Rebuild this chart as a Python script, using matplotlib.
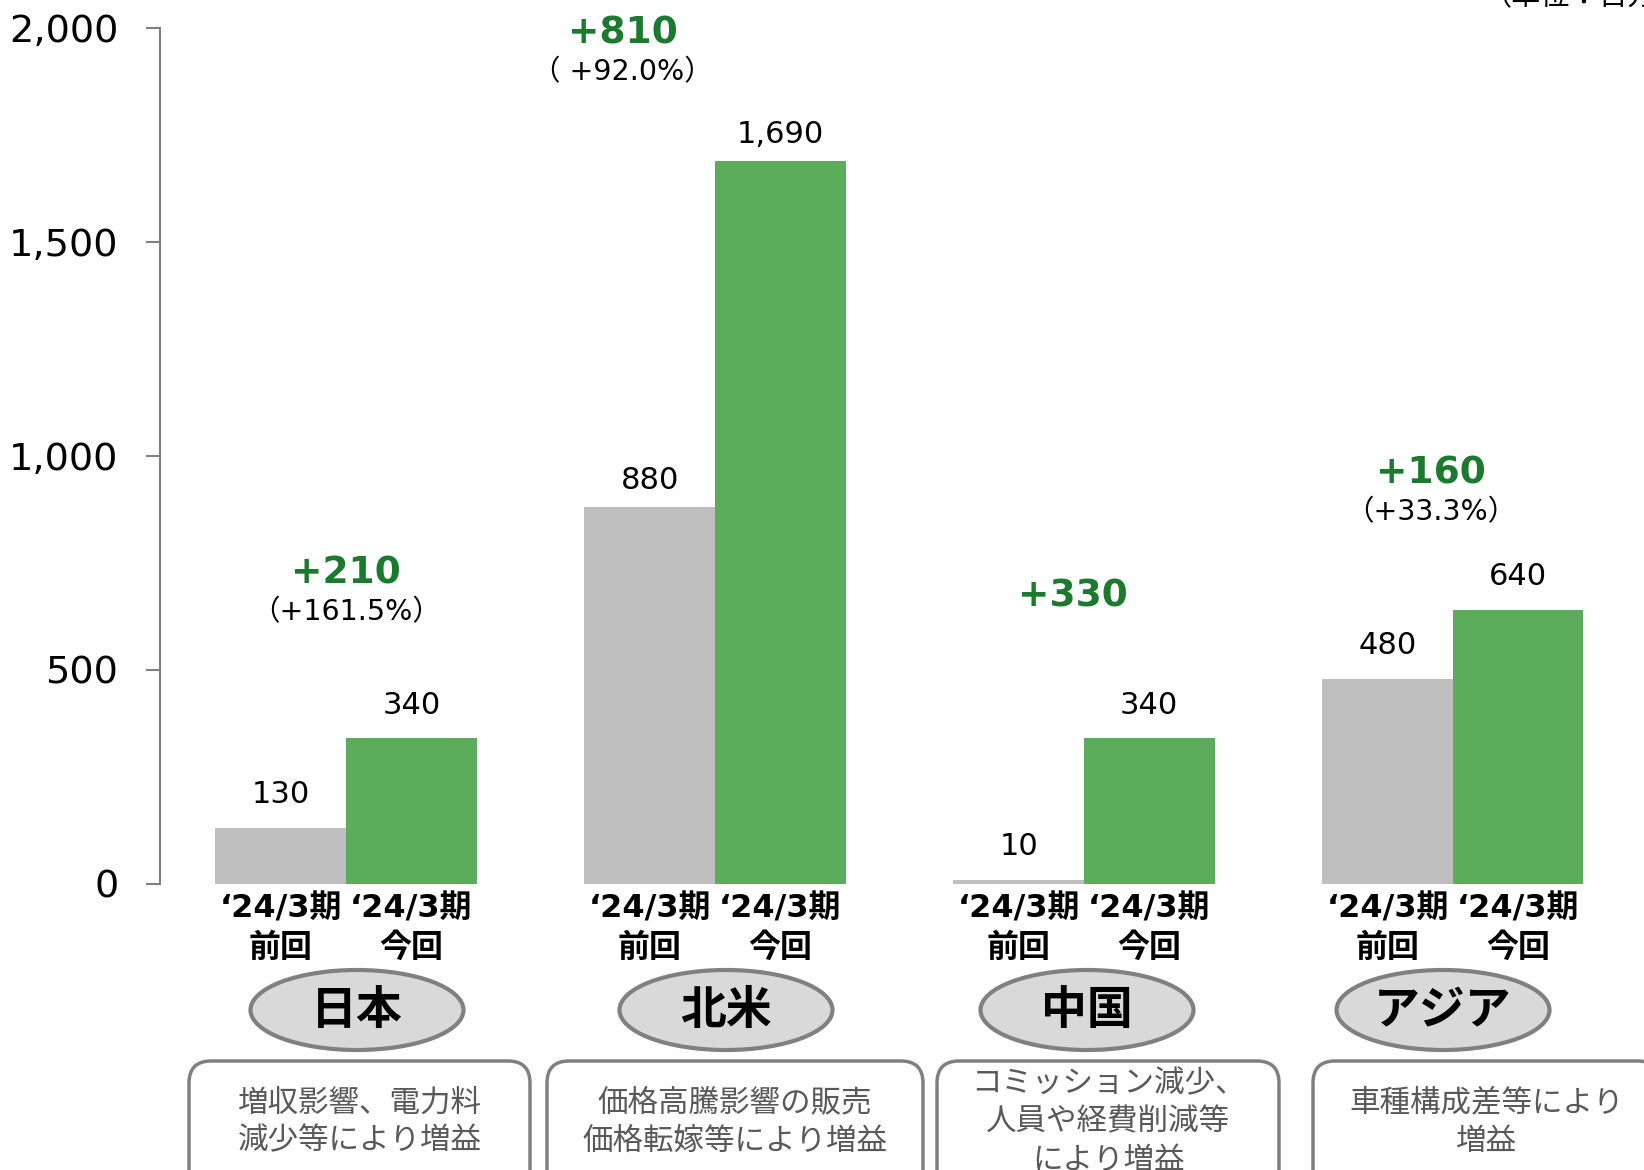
import numpy as np
import matplotlib
matplotlib.use('Agg')
import matplotlib.pyplot as plt
from matplotlib.patches import Ellipse, FancyBboxPatch
from matplotlib.ticker import FuncFormatter

plt.rcParams['font.family'] = ['DejaVu Sans', 'Noto Sans CJK JP']

# 営業利益（地域別）
regions = ['日本', '北米', '中国', 'アジア']
prev = [130, 880, 10, 480]
curr = [340, 1690, 340, 640]
diff = ['+210', '+810', '+330', '+160']
rate = ['（+161.5%）', '（ +92.0%）', '', '（+33.3%）']
period = '‘24/3期'
kinds = ['前回', '今回']
notes = ['増収影響、電力料\n減少等により増益',
         '価格高騰影響の販売\n価格転嫁等により増益',
         'コミッション減少、\n人員や経費削減等\nにより増益',
         '車種構成差等により\n増益']

gray = '#bfbfbf'
green = '#5bad5b'
dgreen = '#1b7a2e'
edge = '#808080'

W, H = 1644, 1170
fig = plt.figure(figsize=(W / 100, H / 100), dpi=100)
ax = fig.add_axes([160 / W, 286 / H, (W - 160) / W, 856 / H])

x = np.arange(len(regions))
w = 0.354
b1 = ax.bar(x - w / 2, prev, w, color=gray)
b2 = ax.bar(x + w / 2, curr, w, color=green)

for bars in (b1, b2):
    for b in bars:
        v = b.get_height()
        off = 62 if v > 800 else 78
        ax.text(b.get_x() + b.get_width() / 2, v + off, f'{v:,.0f}',
                ha='center', va='center', fontsize=22)

# 増減額と増減率
dpos = [(0.0, 725, 635), (0.75, 1988, 1897), (1.97, 672, None), (2.94, 958, 868)]
for (px, y1, y2), d, r in zip(dpos, diff, rate):
    ax.text(px, y1, d, ha='center', va='center', fontsize=27,
            fontweight='bold', color=dgreen)
    if r:
        ax.text(px, y2, r, ha='center', va='center', fontsize=20.5)

ax.set_xlim(-0.504, 3.518)
ax.set_ylim(0, 2000)
ax.set_yticks([0, 500, 1000, 1500, 2000])
ax.yaxis.set_major_formatter(FuncFormatter(lambda v, p: f'{v:,.0f}'))
ticks = np.concatenate([x - w / 2, x + w / 2])
labs = [f'{period}\n{kinds[0]}'] * 4 + [f'{period}\n{kinds[1]}'] * 4
ax.set_xticks(ticks)
ax.set_xticklabels(labs, fontsize=23, fontweight='bold', linespacing=1.35)
ax.tick_params(axis='x', length=0, pad=7)
ax.tick_params(axis='y', length=10, width=1.5, color=edge, pad=20, labelsize=27.5)
for s in ['top', 'right', 'bottom']:
    ax.spines[s].set_visible(False)
ax.spines['left'].set_color(edge)
ax.spines['left'].set_linewidth(1.5)

# 地域名と要因の枠（ピクセル座標）
ov = fig.add_axes([0, 0, 1, 1])
ov.set_xlim(0, W)
ov.set_ylim(H, 0)
ov.axis('off')

ell_x = [357, 726, 1087, 1443]
box_x = [(189, 530), (547, 923), (937, 1279), (1313, 1660)]
for name, ex, (bx0, bx1), note in zip(regions, ell_x, box_x, notes):
    ov.add_patch(Ellipse((ex, 1010), 213, 80, fc='#d9d9d9', ec=edge, lw=3))
    ov.text(ex, 1012, name, ha='center', va='center', fontsize=33,
            fontweight='bold')
    ov.add_patch(FancyBboxPatch((bx0, 1061), bx1 - bx0, 200,
                                boxstyle='round,pad=0,rounding_size=22',
                                fc='white', ec=edge, lw=2.5))
    ov.text((bx0 + bx1) / 2, 1122, note, ha='center', va='center',
            fontsize=22, color='#595959', linespacing=1.4)

fig.text(1483 / W, 1 + 3 / H, '（単位：百万円）', ha='left', va='center', fontsize=21)

fig.savefig('out.png', dpi=100)
